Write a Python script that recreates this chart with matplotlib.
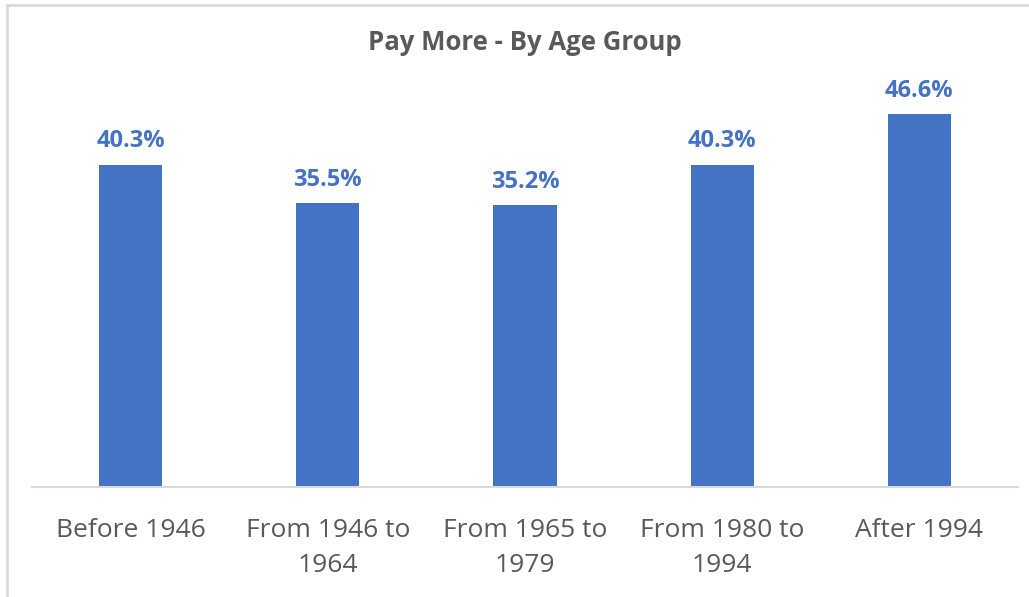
import matplotlib
matplotlib.use("Agg")
import matplotlib.pyplot as plt
from matplotlib.patches import Rectangle

categories = ["Before 1946", "From 1946 to\n1964", "From 1965 to\n1979", "From 1980 to\n1994", "After 1994"]
values = [40.3, 35.5, 35.2, 40.3, 46.6]
labels = ["40.3%", "35.5%", "35.2%", "40.3%", "46.6%"]
title = "Pay More - By Age Group"

plt.rcParams['font.family'] = ['Open Sans', 'DejaVu Sans']

W, H = 1029, 597
fig = plt.figure(figsize=(W/100, H/100), dpi=100)
ax = fig.add_axes([32/W, (H-487)/H, (1018-32)/W, 400/H])

blue = "#4472C4"
x = range(len(categories))
ax.bar(x, values, width=0.32, color=blue, zorder=2)
ax.set_xlim(-0.5, len(categories)-0.5)
ax.set_ylim(0, 50)

for i, (v, lab) in enumerate(zip(values, labels)):
    ax.annotate(lab, (i, v), xytext=(0, 8), textcoords="offset points",
                ha="center", va="bottom", color=blue, fontsize=17, fontweight="bold")

ax.set_xticks(list(x))
ax.set_xticklabels(categories, fontsize=19, color="#595959", linespacing=1.55)
ax.tick_params(axis="x", length=0, pad=22)
ax.set_yticks([])
for s in ["top", "right", "left"]:
    ax.spines[s].set_visible(False)
ax.spines["bottom"].set_color("#D9D9D9")
ax.spines["bottom"].set_linewidth(1.5)

fig.text(525/W, 1-43/H, title, ha="center", va="center", fontsize=18.5, fontweight="bold", color="#595959")

fig.patches.append(Rectangle((7/W, -0.1), 1.2, 1-5/H+0.1, transform=fig.transFigure,
                             fill=False, edgecolor="#D9D9D9", linewidth=2))

fig.savefig("out.png", dpi=100)
